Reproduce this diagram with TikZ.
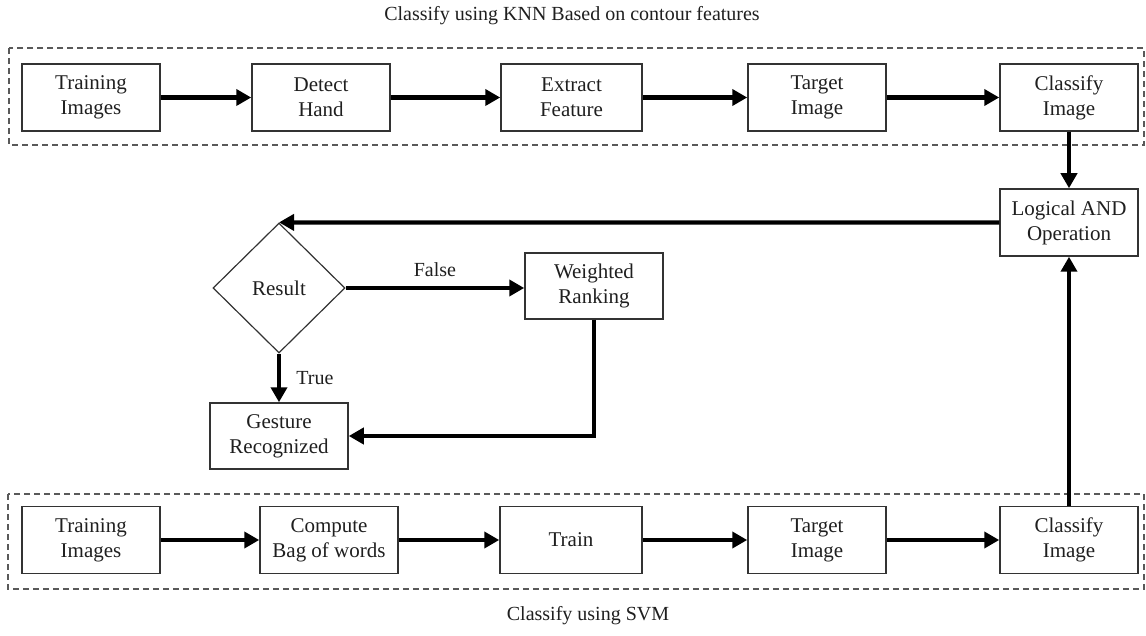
\documentclass[tikz,border=0pt]{standalone}
\usepackage{fontspec}
\setmainfont{Liberation Serif}
\usetikzlibrary{arrows.meta,shapes.geometric,positioning}
\begin{document}
\begin{tikzpicture}[x=1pt,y=-1pt,
  every node/.style={font=\fontsize{21}{25}\selectfont, text=black!88},
  procbox/.style={draw=black!80, line width=1.5pt, minimum width=138pt, minimum height=67pt,
    inner sep=0pt, align=center},
  decision/.style={draw=black!80, line width=1.2pt, diamond, aspect=1, inner sep=0pt,
    minimum width=132pt, minimum height=130pt, align=center},
  flow/.style={line width=4.2pt, -{Triangle[length=15pt,width=16pt]}},
  group/.style={draw=black!65, line width=1.3pt, dash pattern=on 6pt off 4pt},
  caption/.style={font=\fontsize{20}{23}\selectfont},
  edgelabel/.style={font=\fontsize{20}{22}\selectfont}
]
\useasboundingbox (0,0) rectangle (1146,636);

% grouping frames
\draw[group] (9,48) rectangle (1144,145);
\draw[group] (8,494) rectangle (1144,589);
\node[caption] (knncap) at (572,16) {Classify using KNN Based on contour features};
\node[caption] (svmcap) at (588,616) {Classify using SVM};

% KNN pipeline
\node[procbox] (kTrain)  at (91,97.5)   {Training\\Images};
\node[procbox] (kDetect) at (321,97.5)  {Detect\\Hand};
\node[procbox, minimum width=141pt] (kFeat) at (571.5,97.5) {Extract\\Feature};
\node[procbox] (kTarget) at (817,97.5)  {Target\\Image};
\node[procbox] (kClass)  at (1069,97.5) {Classify\\Image};

% SVM pipeline
\node[procbox] (sTrain)  at (91,540)   {Training\\Images};
\node[procbox] (sBag)    at (329,540)  {Compute\\Bag of words};
\node[procbox, minimum width=142pt] (sFit) at (571,540) {Train};
\node[procbox] (sTarget) at (817,540)  {Target\\Image};
\node[procbox] (sClass)  at (1069,540) {Classify\\Image};

% combination and decision
\node[procbox] (andop)   at (1069,222.5) {Logical AND\\Operation};
\node[decision] (result) at (279,288)    {Result};
\node[procbox, minimum height=66pt] (rank)    at (594,286)  {Weighted\\Ranking};
\node[procbox, minimum height=66pt] (gesture) at (279,436)  {Gesture\\Recognized};

% connectors
\draw[flow] (kTrain) -- (kDetect);
\draw[flow] (kDetect) -- (kFeat);
\draw[flow] (kFeat) -- (kTarget);
\draw[flow] (kTarget) -- (kClass);
\draw[flow] (kClass) -- (andop);

\draw[flow] (sTrain) -- (sBag);
\draw[flow] (sBag) -- (sFit);
\draw[flow] (sFit) -- (sTarget);
\draw[flow] (sTarget) -- (sClass);
\draw[flow] (sClass) -- (andop);

\draw[flow] (andop.west) -- (result.north);
\draw[flow] (result.east) -- (result.east -| rank.west)
  node[edgelabel, midway, above=6pt] (falselbl) {False};
\draw[flow] (result.south) -- (gesture.north)
  node[edgelabel, midway, right=12pt] (truelbl) {True};
\draw[flow] (rank.south) |- (gesture.east);
\end{tikzpicture}
\end{document}
